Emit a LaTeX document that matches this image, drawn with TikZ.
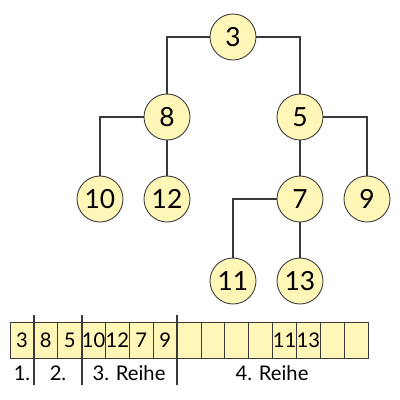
\documentclass[tikz,border=0pt]{standalone}
\usepackage{fontspec}
\setmainfont{Lato}
\definecolor{knotfill}{HTML}{FFF6B8}
\definecolor{linegray}{HTML}{3A3A3A}
\tikzset{
  knot/.style={circle, draw=linegray, fill=knotfill, line width=0.5pt,
    minimum size=0.92cm, inner sep=0pt, font=\fontsize{15}{15}\selectfont},
  cell/.style={draw=linegray, fill=knotfill, line width=0.5pt,
    minimum width=0.4773cm, minimum height=0.72cm, inner sep=0pt,
    font=\fontsize{11.5}{11.5}\selectfont},
  row/.style={font=\fontsize{11.5}{11.5}\selectfont},
  edge/.style={draw=linegray, line width=0.75pt},
}

\begin{document}
\begin{tikzpicture}[x=0.02cm, y=-0.02cm]
  \useasboundingbox (0,0) rectangle (400,400);

  %tree
  \node[knot] (n3)  at (233, 37) {3};
  \node[knot] (n8)  at (167,117) {8};
  \node[knot] (n5)  at (300,117) {5};
  \node[knot] (n10) at (100,199) {10};
  \node[knot] (n12) at (167,199) {12};
  \node[knot] (n7)  at (300,199) {7};
  \node[knot] (n9)  at (367,199) {9};
  \node[knot] (n11) at (233,281) {11};
  \node[knot] (n13) at (300,281) {13};

  \draw[edge] (n3) -| (n8);
  \draw[edge] (n3) -| (n5);
  \draw[edge] (n8) -| (n10);
  \draw[edge] (n8) -- (n12);
  \draw[edge] (n5) -- (n7);
  \draw[edge] (n5) -| (n9);
  \draw[edge] (n7) -| (n11);
  \draw[edge] (n7) -- (n13);

  %array
  \foreach \v [count=\i] in {3,8,5,10,12,7,9,{},{},{},{},11,13,{},{}}
    \node[cell] (c\i) at ({10+(\i-0.5)*23.87}, 340) {\v};

  %rows
  \draw[edge] (34,315) -- (34,385);
  \draw[edge] (82,315) -- (82,385);
  \draw[edge] (177,315) -- (177,385);
  \node[row] (r1) at (22,373) {1.};
  \node[row] (r2) at (58,373) {2.};
  \node[row] (r3) at (129,373) {3. Reihe};
  \node[row] (r4) at (272,373) {4. Reihe};
\end{tikzpicture}
\end{document}
